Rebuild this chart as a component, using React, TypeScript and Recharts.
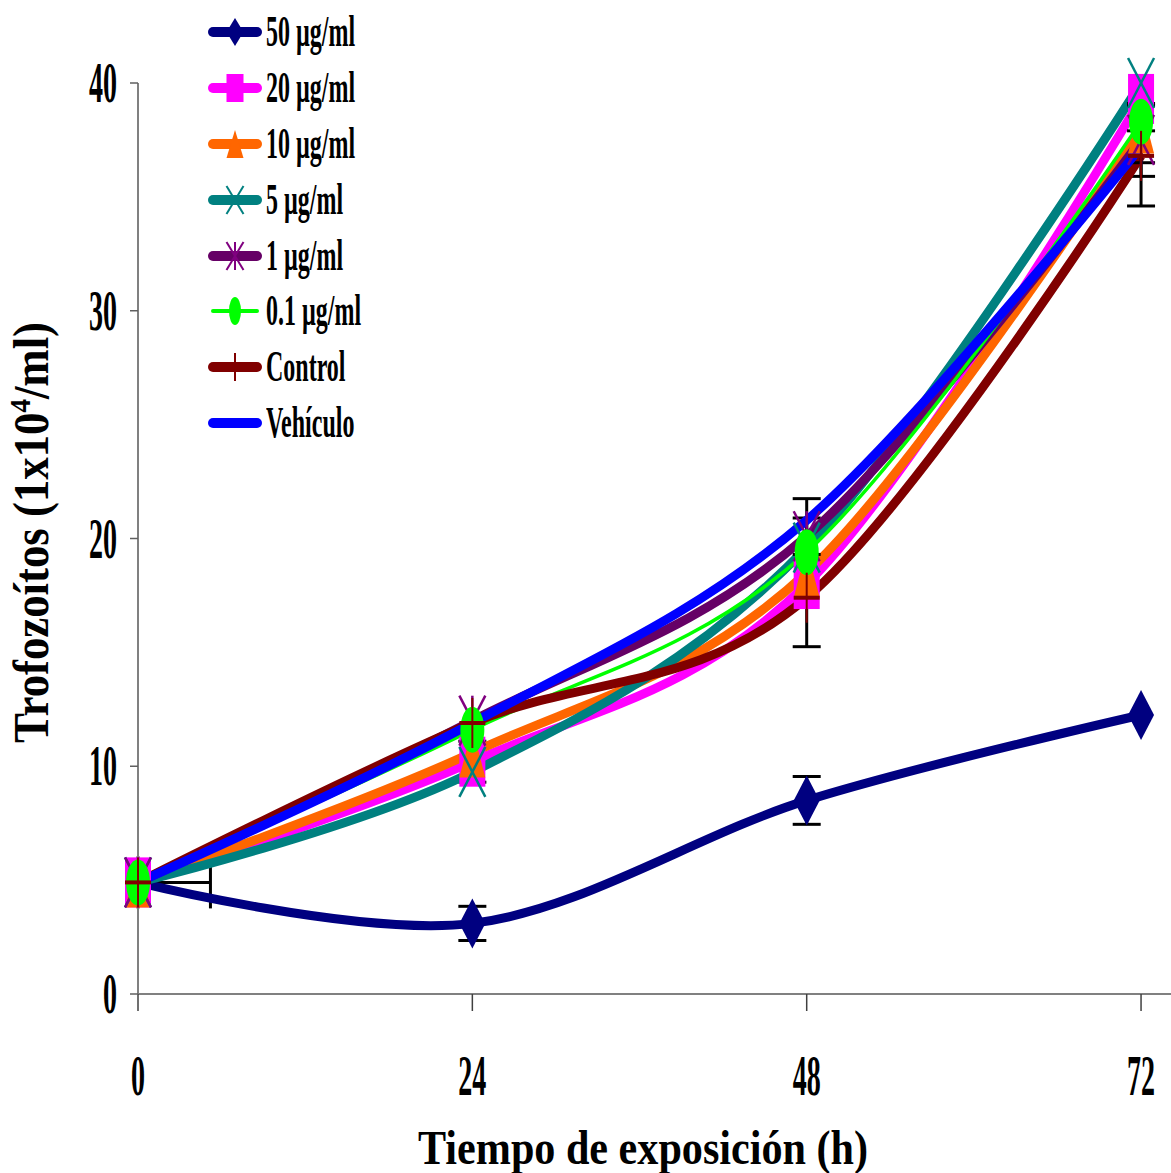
import React from 'react';
import { ComposedChart, Line, Scatter, XAxis, YAxis, ErrorBar, Legend, Label } from 'recharts';

// ---- data ----
const hours = [0, 24, 48, 72];
const xTicks = [0, 24, 48, 72];
const yTicks = [0, 10, 20, 30, 40];

const s50 = [4.9, 3.1, 8.5, 12.25];
const s20 = [4.9, 10.2, 18.0, 39.3];
const s10 = [4.9, 10.6, 18.5, 38.0];
const s5 = [4.9, 9.75, 19.6, 40.0];
const s1 = [4.9, 12.0, 20.1, 37.5];
const s01 = [4.9, 11.6, 19.4, 38.3];
const sControl = [4.9, 11.9, 17.4, 36.8];
const sVehiculo = [4.9, 11.9, 20.8, 37.2];

const e50 = [null, 0.75, 1.05, null];
const e20 = [null, 0.9, null, null];
const e10 = [null, null, 3.25, null];
const e1 = [null, null, 0.8, 1.6];
const eControl = [null, null, null, 2.2];
const eVehiculo = [null, null, null, 0.7];

// horizontal (time) error bar shown at the first point
const xErrHour = [0];
const xErrValue = [4.9];
const xErrRange = [[0, 5.2]];

const seriesNames = ['50 µg/ml', '20 µg/ml', '10 µg/ml', '5 µg/ml', '1 µg/ml', '0.1 µg/ml', 'Control', 'Vehículo'];
const xTitle = 'Tiempo de exposición (h)';

// ---- styling ----
const SERIF = '"Liberation Serif", "Times New Roman", serif';

type Kind = 'diamond' | 'square' | 'triangle' | 'x' | 'asterisk' | 'ellipse' | 'plus' | 'none';

const series: { key: string; err: string; color: string; marker: Kind; markColor: string; width: number }[] = [
  { key: 's50', err: 'e50', color: '#000080', marker: 'diamond', markColor: '#000080', width: 9 },
  { key: 's20', err: 'e20', color: '#FF00FF', marker: 'square', markColor: '#FF00FF', width: 9 },
  { key: 's10', err: 'e10', color: '#FF6600', marker: 'triangle', markColor: '#FF6600', width: 9 },
  { key: 's5', err: 'e5', color: '#008080', marker: 'x', markColor: '#008080', width: 9 },
  { key: 's1', err: 'e1', color: '#660066', marker: 'asterisk', markColor: '#800080', width: 9 },
  { key: 's01', err: 'e01', color: '#00FF00', marker: 'ellipse', markColor: '#00FF00', width: 3.5 },
  { key: 'sControl', err: 'eControl', color: '#800000', marker: 'plus', markColor: '#800000', width: 9 },
  { key: 'sVehiculo', err: 'eVehiculo', color: '#0000FF', marker: 'none', markColor: '#0000FF', width: 9 },
];

const data = hours.map((h, i) => ({
  h,
  s50: s50[i], s20: s20[i], s10: s10[i], s5: s5[i], s1: s1[i], s01: s01[i],
  sControl: sControl[i], sVehiculo: sVehiculo[i],
  e50: e50[i], e20: e20[i], e10: e10[i], e1: e1[i], eControl: eControl[i], eVehiculo: eVehiculo[i],
}));

const xErrData = xErrHour.map((h, i) => ({ h, v: xErrValue[i], ex: xErrRange[i] }));

// Catmull-Rom style (cardinal, tension 0) curve factory, similar to Excel smoothing
function smoothCurve(context: any) {
  const k = 1 / 6;
  let x0 = NaN, x1 = NaN, x2 = NaN, y0 = NaN, y1 = NaN, y2 = NaN, pt = 0, line: number = NaN;
  const bez = (x: number, y: number) => {
    context.bezierCurveTo(
      x1 + k * (x2 - x0), y1 + k * (y2 - y0),
      x2 + k * (x1 - x), y2 + k * (y1 - y),
      x2, y2
    );
  };
  return {
    areaStart() { line = 0; },
    areaEnd() { line = NaN; },
    lineStart() { x0 = x1 = x2 = y0 = y1 = y2 = NaN; pt = 0; },
    lineEnd() {
      if (pt === 2) context.lineTo(x2, y2);
      else if (pt === 3) bez(x1, y1);
      if (line || (line !== 0 && pt === 1)) context.closePath();
      line = 1 - line;
    },
    point(x: number, y: number) {
      x = +x; y = +y;
      if (pt === 0) { pt = 1; if (line) context.lineTo(x, y); else context.moveTo(x, y); }
      else if (pt === 1) { pt = 2; x1 = x; y1 = y; }
      else { if (pt === 2) pt = 3; bez(x, y); }
      x0 = x1; x1 = x2; x2 = x;
      y0 = y1; y1 = y2; y2 = y;
    },
  };
}

function Marker({ kind, cx, cy, w, h, color, sw }: { kind: Kind; cx: number; cy: number; w: number; h: number; color: string; sw: number }) {
  const hw = w / 2, hh = h / 2;
  switch (kind) {
    case 'diamond':
      return <polygon points={`${cx},${cy - hh} ${cx + hw},${cy} ${cx},${cy + hh} ${cx - hw},${cy}`} fill={color} />;
    case 'square':
      return <rect x={cx - hw} y={cy - hh} width={w} height={h} fill={color} />;
    case 'triangle':
      return <polygon points={`${cx},${cy - hh} ${cx + hw},${cy + hh} ${cx - hw},${cy + hh}`} fill={color} />;
    case 'ellipse':
      return <ellipse cx={cx} cy={cy} rx={hw} ry={hh} fill={color} />;
    case 'x':
      return (
        <g stroke={color} strokeWidth={sw}>
          <line x1={cx - hw} y1={cy - hh} x2={cx + hw} y2={cy + hh} />
          <line x1={cx - hw} y1={cy + hh} x2={cx + hw} y2={cy - hh} />
        </g>
      );
    case 'asterisk':
      return (
        <g stroke={color} strokeWidth={sw}>
          <line x1={cx - hw} y1={cy - hh} x2={cx + hw} y2={cy + hh} />
          <line x1={cx - hw} y1={cy + hh} x2={cx + hw} y2={cy - hh} />
          <line x1={cx} y1={cy - hh} x2={cx} y2={cy + hh} />
        </g>
      );
    case 'plus':
      return (
        <g stroke={color}>
          <line x1={cx} y1={cy - hh} x2={cx} y2={cy + hh} strokeWidth={sw} />
          <line x1={cx - hw} y1={cy} x2={cx + hw} y2={cy} strokeWidth={sw * 2} />
        </g>
      );
    default:
      return null;
  }
}

const YTick = (props: any) => {
  const { x, y, payload } = props;
  return (
    <text transform={`translate(${x - 11},${y + 19}) scale(0.5,1)`} textAnchor="end" fontSize={56} fontWeight="bold" fontFamily={SERIF} fill="#000">
      {payload.value}
    </text>
  );
};

const XTick = (props: any) => {
  const { x, y, payload } = props;
  return (
    <text transform={`translate(${x},${y + 82}) scale(0.5,1)`} textAnchor="middle" fontSize={56} fontWeight="bold" fontFamily={SERIF} fill="#000">
      {payload.value}
    </text>
  );
};

const YTitle = (props: any) => {
  const vb = props.viewBox || { x: 0, y: 83, width: 138, height: 911 };
  const cy = vb.y + vb.height / 2 - 6;
  return (
    <text transform={`translate(${vb.x + 48},${cy}) rotate(-90)`} textAnchor="middle" fontSize={50} fontWeight="bold" fontFamily={SERIF} fill="#000" textLength={421} lengthAdjust="spacingAndGlyphs">
      Trofozoítos (1x10<tspan fontSize={30} dy={-18}>4</tspan><tspan dy={18}>/ml)</tspan>
    </text>
  );
};

const XTitle = (props: any) => {
  const vb = props.viewBox || { x: 138, y: 994, width: 1033, height: 179 };
  return (
    <text x={643} y={vb.y + 170} textAnchor="middle" fontSize={48} fontWeight="bold" fontFamily={SERIF} fill="#000" textLength={450} lengthAdjust="spacingAndGlyphs">
      {xTitle}
    </text>
  );
};

const LegendContent = () => (
  <div style={{ display: 'flex', flexDirection: 'column' }}>
    {series.map((s, i) => (
      <div key={s.key} style={{ display: 'flex', alignItems: 'center', height: 55.9 }}>
        <svg width={67} height={52} style={{ display: 'block', flex: 'none' }}>
          <line x1={14} y1={26} x2={58} y2={26} stroke={s.color} strokeWidth={s.marker === 'ellipse' ? 4 : 10} strokeLinecap="round" />
          <Marker kind={s.marker} cx={36} cy={26} w={s.marker === 'ellipse' ? 12 : 17} h={28} color={s.markColor} sw={2} />
        </svg>
        <span style={{ fontFamily: SERIF, fontWeight: 'bold', fontSize: 44, lineHeight: '52px', display: 'inline-block', transform: 'scaleX(0.545)', transformOrigin: 'left center', whiteSpace: 'nowrap', color: '#000' }}>
          {seriesNames[i]}
        </span>
      </div>
    ))}
  </div>
);

export default function App() {
  return (
    <div style={{ position: 'absolute', left: 0, top: 0, width: 1171, height: 1173, background: '#fff' }}>
      <ComposedChart width={1171} height={1173} data={data} margin={{ top: 83, right: 0, bottom: 0, left: 0 }}>
        <XAxis
          dataKey="h"
          type="number"
          domain={[0, 74.15]}
          ticks={xTicks}
          height={179}
          tickSize={17}
          stroke="#808080"
          strokeWidth={2}
          tickLine={{ stroke: '#404040', strokeWidth: 1.5 }}
          tick={<XTick />}
          interval={0}
        >
          <Label content={<XTitle />} />
        </XAxis>
        <YAxis
          type="number"
          domain={[0, 40]}
          ticks={yTicks}
          width={138}
          tickSize={8}
          stroke="#808080"
          strokeWidth={2}
          tickLine={{ stroke: '#606060', strokeWidth: 1.5 }}
          tick={<YTick />}
          interval={0}
        >
          <Label content={<YTitle />} />
        </YAxis>
        <Legend
          layout="vertical"
          align="center"
          verticalAlign="middle"
          wrapperStyle={{ top: 4, left: 199, width: 'auto', height: 'auto' }}
          content={() => <LegendContent />}
        />
        <Scatter data={xErrData} dataKey="v" isAnimationActive={false} shape={() => <g />} legendType="none">
          <ErrorBar dataKey="ex" direction="x" width={26} strokeWidth={3} stroke="#000" />
        </Scatter>
        {series.map((s) => (
          <Line
            key={s.key}
            dataKey={s.key}
            name={s.key}
            type={smoothCurve as any}
            stroke={s.color}
            strokeWidth={s.width}
            strokeLinejoin="round"
            isAnimationActive={false}
            activeDot={false}
            dot={(p: any) => (
              <Marker key={`${s.key}-${p.index}`} kind={s.marker} cx={p.cx} cy={p.cy} w={s.marker === 'ellipse' ? 24 : 26} h={s.marker === 'ellipse' ? 46 : 50} color={s.markColor} sw={s.marker === 'plus' ? 2 : 2.5} />
            )}
          >
            {data.some((d: any) => d[s.err] != null) && (
              <ErrorBar dataKey={s.err} width={14} strokeWidth={3} stroke="#000" />
            )}
          </Line>
        ))}
      </ComposedChart>
    </div>
  );
}
